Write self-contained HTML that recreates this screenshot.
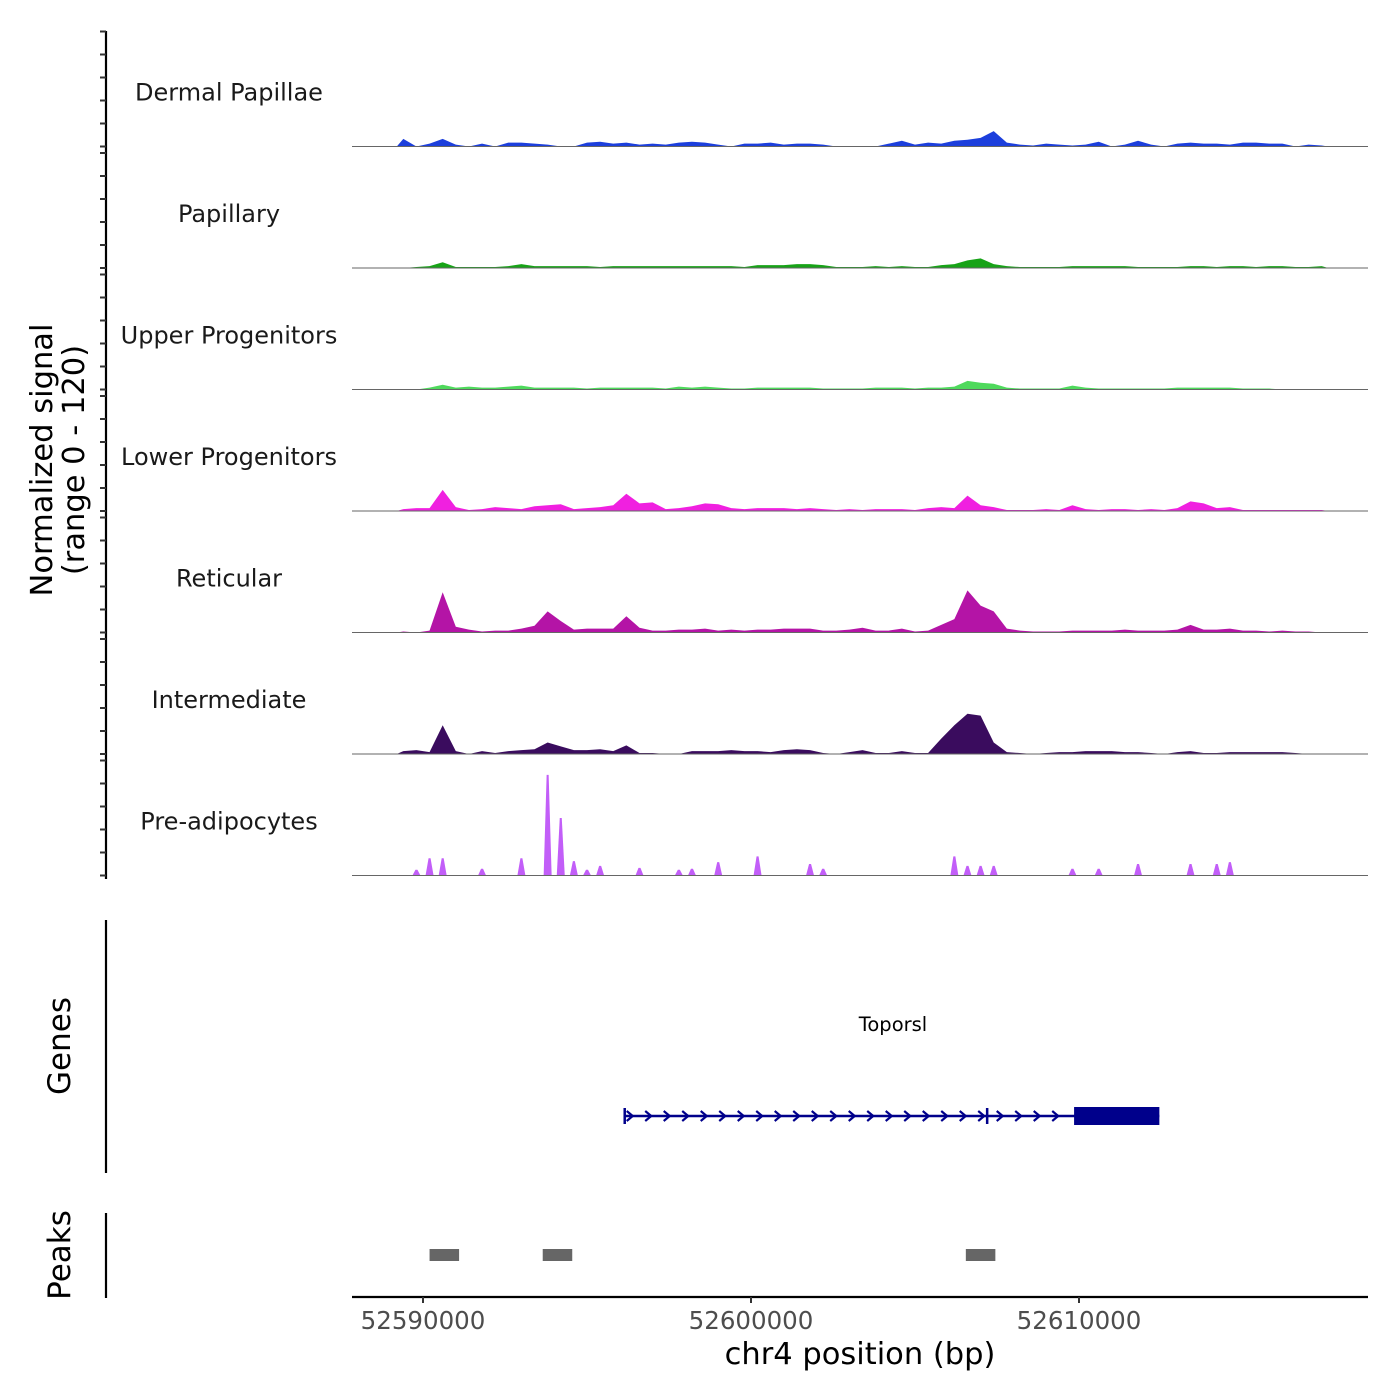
<!DOCTYPE html>
<html><head><meta charset="utf-8"><style>
body{margin:0;background:#fff;}
svg{display:block;font-family:"DejaVu Sans","Liberation Sans",sans-serif;}
</style></head><body>
<svg id="chart" width="1400" height="1400" viewBox="0 0 1400 1400"></svg>
<script>
const trackNames = ["Dermal Papillae","Papillary","Upper Progenitors","Lower Progenitors","Reticular","Intermediate","Pre-adipocytes"];
const trackColors = ["#1c3fdc","#17a317","#4fd95c","#f020e0","#b414a6","#3a0c5e","#c25ef8"];
const binStart = 52589200;
const binSize = 400;
const dermal = [8,0,3,8,2,0,3,0,4,4,3,2,0,0,4,5,3,4,2,3,2,4,5,4,2,0,3,3,4,2,3,3,2,0,0,0,0,3,6,2,4,3,6,7,9,16,4,2,1,3,2,1,2,5,0,2,6,2,0,3,4,3,3,2,4,4,3,3,0,2,1];
const papillary = [0,1,2,6,1,1,1,1,2,4,2,2,2,2,2,1,2,2,2,2,2,2,2,2,2,2,1,3,3,3,4,4,3,1,1,1,2,1,2,1,1,3,4,8,10,4,2,1,1,1,1,2,2,2,2,2,1,1,1,1,2,2,1,2,2,1,2,2,1,1,2];
const upper = [0,0,2,5,2,3,2,2,3,4,2,2,2,2,1,2,2,2,2,2,1,3,2,3,2,1,1,2,2,2,2,2,1,1,1,1,2,2,2,1,2,2,3,9,7,6,2,1,1,1,1,4,2,1,1,1,1,1,1,2,2,2,2,2,1,1,1,0,0,0,0];
const lower = [2,3,3,22,4,1,2,4,3,2,5,6,7,2,3,4,6,18,8,9,2,3,5,8,7,3,2,3,3,3,2,3,2,1,2,1,2,2,2,1,3,4,3,16,6,4,1,1,1,2,1,6,2,1,2,2,1,2,1,3,10,8,3,4,1,1,1,1,1,1,1];
const reticular = [1,0,2,42,6,3,1,2,2,4,7,22,12,3,4,4,4,17,5,2,2,3,3,4,2,3,2,3,3,4,4,4,2,2,3,5,2,2,4,1,2,8,14,44,28,22,4,2,1,1,1,2,2,2,2,3,2,2,2,3,8,3,3,4,2,2,1,2,1,1,0];
const intermediate = [3,4,2,30,3,0,3,1,3,4,5,12,8,4,4,5,3,9,1,1,0,0,3,3,3,4,3,3,2,4,5,4,1,0,2,4,1,1,3,1,1,16,30,42,40,12,2,1,0,1,2,2,3,3,3,2,2,1,0,2,3,1,1,2,2,2,2,2,1,0,0];
const preadipo = [0,6,18,18,0,0,7,0,0,18,0,105,60,15,6,10,0,0,8,0,0,6,7,0,14,0,0,20,0,0,0,12,7,0,0,0,0,0,0,0,0,0,20,10,10,10,0,0,0,0,0,7,0,7,0,0,12,0,0,0,12,0,12,14,0,0,0,0,0,0,0];
const trackValues = [dermal,papillary,upper,lower,reticular,intermediate,preadipo];
const xTicks = [52590000,52600000,52610000];
const geneStart = 52596150, geneEnd = 52612450, cdsStart = 52609850, geneTss2 = 52607200;
const peakStarts = [52590200,52593650,52606550];
const peakEnds = [52591100,52594550,52607450];
const yMax = 120;

const NS="http://www.w3.org/2000/svg";
const svg=document.getElementById('chart');
const X0=52590000, PX0=423, SCALE=0.0328;
function xs(p){return PX0+(p-X0)*SCALE;}
function mk(tag,attrs,parent){const e=document.createElementNS(NS,tag);for(const k in attrs)e.setAttribute(k,attrs[k]);(parent||svg).appendChild(e);return e;}
const plotL=352, plotR=1368, trackH=115, trackStep=121.5, firstTop=31.5;

let ax=mk('line',{x1:106,y1:31,x2:106,y2:879,stroke:'#000','stroke-width':2.2});



trackNames.forEach((name,t)=>{
  const top=firstTop+t*trackStep, base=top+trackH;
  const g=mk('g',{});
  
  
  for(let k=0;k<6;k++){
    const y=base-k*trackH/5;
    const tk=mk('line',{x1:100,y1:y,x2:106,y2:y,stroke:'#333','stroke-width':2},g);
    
    
  }
  const lb=mk('text',{x:229,y:top+69,'text-anchor':'middle','font-size':24,fill:'#1a1a1a'},g);
  lb.textContent=name;
  
  
  const vals=trackValues[t];
  const ys=v=>base-v*trackH/yMax;
  if(t===6){
    vals.forEach((v,i)=>{ if(v<=0) return;
      const cx=xs(binStart+binSize*i+binSize/2);
      const r=mk('polygon',{points:`${cx-4},${base} ${cx-1},${ys(v)} ${cx+1},${ys(v)} ${cx+4},${base}`,fill:trackColors[t]},g);
      
      
    });
  } else {
    let pts=[`${xs(binStart)},${base}`];
    vals.forEach((v,i)=>{pts.push(`${xs(binStart+binSize*i+binSize/2)},${ys(v)}`);});
    pts.push(`${xs(binStart+binSize*vals.length)},${base}`);
    const p=mk('polygon',{points:pts.join(' '),fill:trackColors[t]},g);
    
    
  }
  const bl=mk('line',{x1:plotL,y1:base,x2:plotR,y2:base,stroke:'#666','stroke-width':1},g);
  
  
});

function rotText(txt,x,y,name,size){
  const t=mk('text',{x:x,y:y,'text-anchor':'middle','font-size':size||31,fill:'#000',transform:`rotate(-90 ${x} ${y})`});
  t.textContent=txt;
  
  
  return t;
}
const yt=mk('text',{'text-anchor':'middle','font-size':30.5,fill:'#000',transform:'translate(52,460) rotate(-90)'});


const t1=mk('tspan',{x:0,y:0},yt);t1.textContent='Normalized signal';
const t2=mk('tspan',{x:0,y:32},yt);t2.textContent='(range 0 - 120)';

let ga=mk('line',{x1:106,y1:920,x2:106,y2:1173,stroke:'#000','stroke-width':2.2});


rotText('Genes',70,1046,'genes-axis-title');
const gg=mk('g',{});


const gl=mk('text',{x:893,y:1031,'text-anchor':'middle','font-size':19.5,fill:'#000'},gg);
gl.textContent='Toporsl';


const gc='#00008b';
mk('line',{x1:xs(geneStart),y1:1116,x2:xs(geneEnd),y2:1116,stroke:gc,'stroke-width':2.5},gg);
for(let x=xs(geneStart)+2;x<xs(cdsStart)-4;x+=18.5){
  const c=mk('polyline',{points:`${x},1111 ${x+6},1116 ${x},1121`,fill:'none',stroke:gc,'stroke-width':2.2},gg);
  
  
}
mk('line',{x1:xs(geneStart),y1:1108,x2:xs(geneStart),y2:1124,stroke:gc,'stroke-width':2.5},gg);
mk('line',{x1:xs(geneTss2),y1:1108,x2:xs(geneTss2),y2:1124,stroke:gc,'stroke-width':2.5},gg);
const cds=mk('rect',{x:xs(cdsStart),y:1107,width:xs(geneEnd)-xs(cdsStart),height:18,fill:gc},gg);



let pa=mk('line',{x1:106,y1:1213,x2:106,y2:1298,stroke:'#000','stroke-width':2.2});


rotText('Peaks',70,1255,'peaks-axis-title');
peakStarts.forEach((s,i)=>{
  const r=mk('rect',{x:xs(s),y:1249,width:xs(peakEnds[i])-xs(s),height:12,fill:'#666'});
  
  
});

let xa=mk('line',{x1:plotL,y1:1297,x2:plotR,y2:1297,stroke:'#000','stroke-width':2.2});


xTicks.forEach(v=>{
  const tk=mk('line',{x1:xs(v),y1:1297,x2:xs(v),y2:1303,stroke:'#333','stroke-width':2});
  
  
  const tl=mk('text',{x:xs(v),y:1329,'text-anchor':'middle','font-size':24.5,fill:'#4d4d4d'});
  tl.textContent=String(v);
  
  
});
const xt=mk('text',{x:860,y:1364,'text-anchor':'middle','font-size':30.5,fill:'#000'});
xt.textContent='chr4 position (bp)';


</script>
</body></html>
